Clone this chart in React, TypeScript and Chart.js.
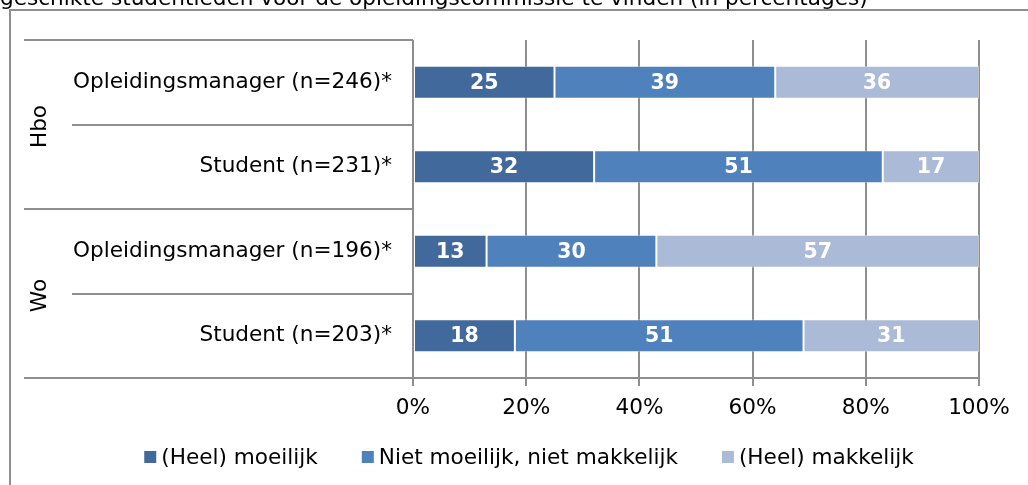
import { useEffect, useRef } from "react";
import { Chart, registerables } from "chart.js";
Chart.register(...registerables);

const title = "geschikte studentleden voor de opleidingscommissie te vinden (in percentages)";
const categories = [
  "Opleidingsmanager (n=246)*",
  "Student (n=231)*",
  "Opleidingsmanager (n=196)*",
  "Student (n=203)*",
];
const groups = ["Hbo", "Wo"];
const groupSizes = [2, 2];
const seriesNames = ["(Heel) moeilijk", "Niet moeilijk, niet makkelijk", "(Heel) makkelijk"];
const moeilijk = [25, 32, 13, 18];
const neutraal = [39, 51, 30, 51];
const makkelijk = [36, 17, 57, 31];
const xTicks = [0, 20, 40, 60, 80, 100];
const seriesColors = ["#41699C", "#4F81BD", "#AABAD7"];

const FONT = '"DejaVu Sans", Verdana, sans-serif';
const FS = 21.6;
const GRID = "#8E8E8E";

const decor = {
  id: "decor",
  beforeDraw(chart: any) {
    const ctx = chart.ctx;
    ctx.save();
    ctx.fillStyle = "#ffffff";
    ctx.fillRect(0, 0, chart.width, chart.height);
    // title (cut off at top)
    ctx.fillStyle = "#000";
    ctx.font = `${FS}px ${FONT}`;
    ctx.textAlign = "left";
    ctx.textBaseline = "alphabetic";
    ctx.fillText(title, 0, 5);
    // frame
    ctx.strokeStyle = GRID;
    ctx.lineWidth = 2;
    ctx.beginPath();
    ctx.moveTo(10, chart.height + 2);
    ctx.lineTo(10, 10);
    ctx.lineTo(chart.width + 2, 10);
    ctx.stroke();
    ctx.restore();
  },
  afterDatasetsDraw(chart: any) {
    const ctx = chart.ctx;
    ctx.save();
    ctx.fillStyle = "#ffffff";
    ctx.font = `bold 20.5px ${FONT}`;
    ctx.textAlign = "center";
    ctx.textBaseline = "middle";
    chart.data.datasets.forEach((ds: any, di: number) => {
      const meta = chart.getDatasetMeta(di);
      meta.data.forEach((el: any, i: number) => {
        const p = el.getProps(["x", "y", "base"], true);
        ctx.fillText(String(ds.data[i]), (p.x + p.base) / 2, p.y + 1);
      });
    });
    ctx.restore();
  },
  afterDraw(chart: any) {
    const ctx = chart.ctx;
    const ys = chart.scales.y;
    const area = chart.chartArea;
    const n = categories.length;
    const boundary = (k: number) => {
      if (k === 0) return area.top;
      if (k === n) return area.bottom;
      return (ys.getPixelForValue(k - 1) + ys.getPixelForValue(k)) / 2;
    };
    const groupEdges: number[] = [0];
    groupSizes.forEach((s) => groupEdges.push(groupEdges[groupEdges.length - 1] + s));
    ctx.save();
    ctx.strokeStyle = GRID;
    ctx.lineWidth = 2;
    for (let k = 0; k <= n; k++) {
      const y = Math.round(boundary(k));
      const x0 = groupEdges.includes(k) ? 24 : 72;
      ctx.beginPath();
      ctx.moveTo(x0, y);
      ctx.lineTo(area.left, y);
      ctx.stroke();
    }
    // group labels
    ctx.fillStyle = "#000";
    ctx.font = `${FS}px ${FONT}`;
    ctx.textAlign = "center";
    ctx.textBaseline = "middle";
    groups.forEach((g, gi) => {
      const yc = (boundary(groupEdges[gi]) + boundary(groupEdges[gi + 1])) / 2;
      ctx.save();
      ctx.translate(40, yc + 2);
      ctx.rotate(-Math.PI / 2);
      ctx.fillText(g, 0, 0);
      ctx.restore();
    });
    // legend
    const box = 12;
    const gapBox = 5;
    const gapItem = 44;
    ctx.textAlign = "left";
    const widths = seriesNames.map((s) => ctx.measureText(s).width);
    const total = widths.reduce((a, w) => a + box + gapBox + w, 0) + gapItem * (seriesNames.length - 1);
    let x = 529 - total / 2;
    const ly = 457;
    seriesNames.forEach((s, i) => {
      ctx.fillStyle = seriesColors[i];
      ctx.fillRect(x, ly - box / 2, box, box);
      ctx.fillStyle = "#000";
      ctx.fillText(s, x + box + gapBox, ly + 1);
      x += box + gapBox + widths[i] + gapItem;
    });
    ctx.restore();
  },
};

export default function App() {
  const ref = useRef<HTMLCanvasElement | null>(null);
  useEffect(() => {
    if (!ref.current) return;
    const seriesData = [moeilijk, neutraal, makkelijk];
    const chart = new Chart(ref.current, {
      type: "bar",
      data: {
        labels: categories,
        datasets: seriesNames.map((name, i) => ({
          label: name,
          data: seriesData[i],
          backgroundColor: seriesColors[i],
          borderColor: "rgba(255,255,255,0.45)",
          borderWidth: 1,
          borderSkipped: false,
          barPercentage: 0.39,
          categoryPercentage: 1,
        })),
      },
      options: {
        indexAxis: "y",
        responsive: false,
        animation: false,
        layout: { padding: { left: 0, right: 49, top: 40, bottom: 0 } },
        plugins: { legend: { display: false }, tooltip: { enabled: false }, title: { display: false } },
        scales: {
          x: {
            stacked: true,
            min: 0,
            max: 100,
            afterBuildTicks: (s: any) => {
              s.ticks = xTicks.map((v) => ({ value: v }));
            },
            afterFit: (s: any) => {
              s.height = 107;
            },
            ticks: {
              callback: (v: any) => v + "%",
              color: "#000",
              font: { family: FONT, size: FS },
              padding: 9,
              maxRotation: 0,
            },
            grid: { color: GRID, lineWidth: 2, tickLength: 8, tickColor: GRID },
            border: { display: true, color: GRID, width: 2 },
          },
          y: {
            stacked: true,
            afterFit: (s: any) => {
              s.width = 413;
            },
            ticks: {
              color: "#000",
              font: { family: FONT, size: FS },
              padding: 13,
            },
            grid: { display: false },
            border: { display: false },
          },
        },
      },
      plugins: [decor],
    });
    return () => chart.destroy();
  }, []);
  return (
    <div style={{ position: "fixed", left: 0, top: 0, width: 1028, height: 485 }}>
      <canvas ref={ref} width={1028} height={485} style={{ display: "block" }} />
    </div>
  );
}
